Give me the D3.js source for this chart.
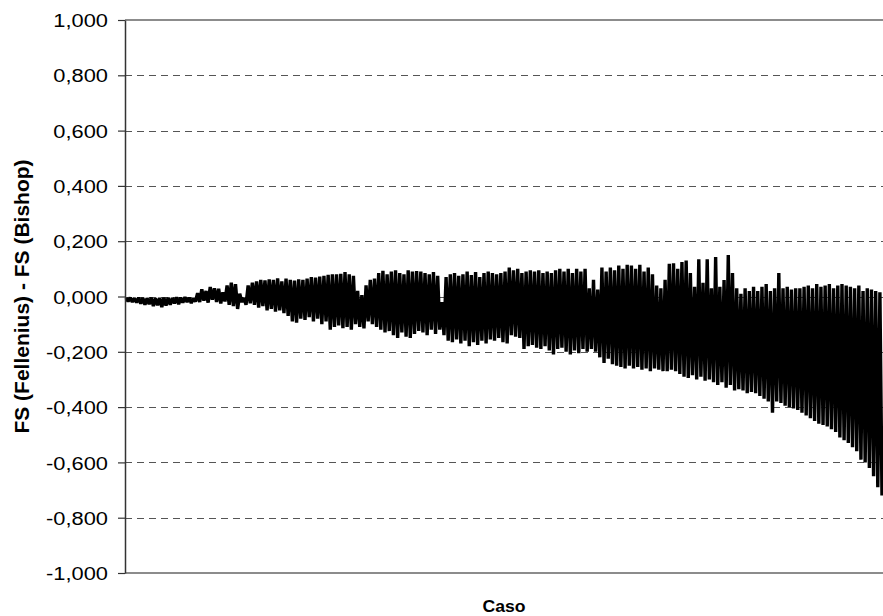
<!DOCTYPE html>
<html>
<head>
<meta charset="utf-8">
<script src="https://cdn.jsdelivr.net/npm/d3@7"></script>
<style>
  html, body { margin: 0; padding: 0; background: #fff; }
  svg { display: block; }
</style>
</head>
<body>
<svg id="chart" width="883" height="616"></svg>
<script>
// ---- data ----
const yTickValues = [-1, -0.8, -0.6, -0.4, -0.2, 0, 0.2, 0.4, 0.6, 0.8, 1];
const xTitle = "Caso";
const yTitle = "FS (Fellenius) - FS (Bishop)";

// FS(Fellenius) - FS(Bishop), one value per case, in case order
const diffPart1 = [
  -0.005,-0.018,-0.004,-0.02,-0.006,-0.022,-0.004,-0.026,-0.005,-0.03,-0.006,-0.028,-0.004,-0.035,-0.006,-0.032,-0.005,-0.038,-0.004,-0.033,
  -0.004,-0.03,-0.005,-0.025,-0.003,-0.028,-0.004,-0.022,-0.002,-0.02,-0.004,-0.024,-0.006,-0.018,0.012,-0.02,0.026,-0.015,0.02,-0.022,
  0.034,-0.012,0.03,-0.02,0.028,-0.025,0.015,-0.018,0.04,-0.03,0.05,-0.035,0.045,-0.045,0.01,-0.02,-0.005,-0.03,0.04,-0.025,
  0.05,-0.03,0.055,-0.04,0.06,-0.035,0.058,-0.05,0.062,-0.045,0.06,-0.055,0.066,-0.05,0.055,-0.06,0.065,-0.07,0.06,-0.09,
  0.058,-0.095,0.062,-0.08,0.06,-0.085,0.065,-0.075,0.07,-0.09,0.068,-0.08,0.072,-0.1,0.075,-0.09,0.078,-0.12,0.08,-0.11,
  0.08,-0.105,0.082,-0.115,0.088,-0.11,0.08,-0.12,0.075,-0.1,0.02,-0.11,0.005,-0.115,0.04,-0.09,0.06,-0.1,0.065,-0.11
];
const diffPart2 = [
  0.085,-0.12,0.093,-0.13,0.08,-0.125,0.09,-0.14,0.095,-0.15,0.085,-0.13,0.08,-0.145,0.095,-0.15,0.09,-0.135,0.092,-0.125,
  0.09,-0.13,0.085,-0.14,0.08,-0.12,0.088,-0.135,0.075,-0.12,-0.02,-0.14,0.07,-0.16,0.08,-0.165,0.085,-0.155,0.075,-0.17,
  0.08,-0.16,0.09,-0.18,0.078,-0.165,0.088,-0.175,0.07,-0.16,0.085,-0.17,0.09,-0.155,0.085,-0.16,0.08,-0.15,0.085,-0.165,
  0.09,-0.17,0.105,-0.14,0.095,-0.145,0.1,-0.15,0.085,-0.19,0.09,-0.18,0.095,-0.175,0.09,-0.185,0.095,-0.19,0.085,-0.18,
  0.09,-0.195,0.085,-0.21,0.095,-0.19,0.1,-0.185,0.09,-0.2,0.1,-0.21,0.085,-0.195,0.1,-0.205,0.09,-0.19,0.1,-0.2,
  0.03,-0.19,0.06,-0.2,0.025,-0.22,0.105,-0.24,0.09,-0.225,0.105,-0.245,0.095,-0.25,0.112,-0.255,0.1,-0.26,0.115,-0.25
];
const diffPart3 = [
  0.112,-0.26,0.1,-0.255,0.115,-0.265,0.09,-0.26,0.105,-0.27,0.08,-0.26,0.04,-0.265,0.03,-0.27,0.06,-0.27,0.118,-0.265,
  0.12,-0.27,0.1,-0.28,0.125,-0.29,0.13,-0.295,0.085,-0.285,0.035,-0.3,0.135,-0.29,0.05,-0.305,0.135,-0.3,0.03,-0.31,
  0.143,-0.32,0.035,-0.31,0.06,-0.33,0.15,-0.32,0.085,-0.34,0.03,-0.335,0.01,-0.34,0.03,-0.35,0.02,-0.345,0.035,-0.35,
  0.02,-0.36,0.035,-0.37,0.045,-0.38,0.02,-0.42,0.03,-0.38,0.085,-0.385,0.03,-0.395,0.035,-0.4,0.025,-0.405,0.03,-0.41,
  0.03,-0.42,0.035,-0.43,0.04,-0.44,0.03,-0.45,0.045,-0.46,0.035,-0.465,0.04,-0.47,0.045,-0.48,0.03,-0.49,0.04,-0.51,
  0.045,-0.52,0.04,-0.53,0.035,-0.545,0.03,-0.56,0.04,-0.59,0.02,-0.6,0.03,-0.62,0.025,-0.65,0.02,-0.69,0.015,-0.72
];

const values = diffPart1.concat(diffPart2, diffPart3);
const cases = values.map((v, i) => i + 1);

// ---- drawing ----
const svg = d3.select("#chart");
const margin = { left: 125, right: 0, top: 20, bottom: 43 };
const W = 883, H = 616;
const x = d3.scaleLinear().domain([1, cases.length]).range([margin.left + 1, W - margin.right - 1]);
const y = d3.scaleLinear().domain([-1, 1]).range([H - margin.bottom, margin.top]);

const locale = d3.formatLocale({ decimal: ",", thousands: ".", grouping: [3], currency: ["", ""], minus: "-" });
const fmt = locale.format(".3f");

// dashed gridlines
svg.append("g")
  .selectAll("line")
  .data(yTickValues.filter(v => v > -1 && v < 1))
  .join("line")
  .attr("x1", margin.left).attr("x2", W - margin.right)
  .attr("y1", d => Math.round(y(d)) + 0.5).attr("y2", d => Math.round(y(d)) + 0.5)
  .attr("stroke", "#555").attr("stroke-width", 1)
  .attr("stroke-dasharray", "7,5");

// top border and bottom axis (solid gray)
svg.append("line")
  .attr("x1", margin.left).attr("x2", W)
  .attr("y1", y(1)).attr("y2", y(1))
  .attr("stroke", "#8c8c8c").attr("stroke-width", 2);
svg.append("line")
  .attr("x1", margin.left).attr("x2", W)
  .attr("y1", y(-1)).attr("y2", y(-1))
  .attr("stroke", "#8c8c8c").attr("stroke-width", 2);

// data line
const line = d3.line()
  .x((d, i) => x(cases[i]))
  .y(d => y(d));
svg.append("path")
  .datum(values)
  .attr("d", line)
  .attr("fill", "none")
  .attr("stroke", "#000")
  .attr("stroke-width", 3.4)
  .attr("stroke-linejoin", "miter")
  .attr("stroke-miterlimit", 2);

// left axis
const yAxis = d3.axisLeft(y).tickValues(yTickValues).tickFormat(fmt).tickSize(7).tickSizeOuter(0);
const gy = svg.append("g")
  .attr("transform", `translate(${margin.left},0)`)
  .call(yAxis);
gy.select(".domain").attr("stroke", "#333").attr("stroke-width", 1.5);
gy.selectAll(".tick line").attr("stroke", "#333").attr("stroke-width", 1.2);
gy.selectAll(".tick text")
  .attr("x", null)
  .attr("dy", "0.35em")
  .attr("transform", "translate(-17,0) scale(1.15,1)")
  .attr("fill", "#000")
  .style("font-family", "Liberation Sans, Arial, sans-serif")
  .style("font-size", "19px")
  .attr("text-anchor", "end");

// axis titles
svg.append("text")
  .attr("transform", `translate(${(margin.left + W) / 2},612) scale(1.1,1)`)
  .attr("text-anchor", "middle")
  .style("font-family", "Liberation Sans, Arial, sans-serif")
  .style("font-weight", "bold")
  .style("font-size", "16px")
  .text(xTitle);

svg.append("text")
  .attr("transform", `translate(29,${(y(1) + y(-1)) / 2}) rotate(-90)`)
  .attr("text-anchor", "middle")
  .style("font-family", "Liberation Sans, Arial, sans-serif")
  .style("font-weight", "bold")
  .style("font-size", "21px")
  .text(yTitle);
</script>
</body>
</html>
